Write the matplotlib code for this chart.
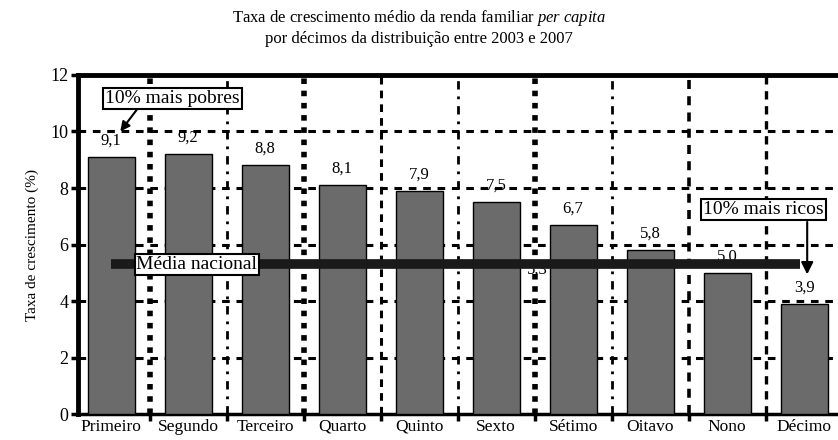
import matplotlib
matplotlib.use("Agg")
import matplotlib.pyplot as plt
import numpy as np

plt.rcParams['font.family'] = 'Liberation Serif'
plt.rcParams['mathtext.fontset'] = 'custom'
plt.rcParams['mathtext.rm'] = 'Liberation Serif'
plt.rcParams['mathtext.it'] = 'Liberation Serif:italic'

# data
deciles = ['Primeiro', 'Segundo', 'Terceiro', 'Quarto', 'Quinto',
           'Sexto', 'Sétimo', 'Oitavo', 'Nono', 'Décimo']
growth = [9.1, 9.2, 8.8, 8.1, 7.9, 7.5, 6.7, 5.8, 5.0, 3.9]
value_labels = ['9,1', '9,2', '8,8', '8,1', '7,9', '7,5', '6,7', '5,8', '5,0', '3,9']
national_mean = 5.3
national_label = '5,3'

x = np.arange(len(deciles))
SERIF = 'Liberation Serif'

fig = plt.figure(figsize=(8.38, 4.40), dpi=100)
ax = fig.add_axes([0.093, 0.058, 0.907, 0.772])

# bars
ax.bar(x, growth, width=0.61, color='#6b6b6b', edgecolor='black',
       linewidth=1.0, zorder=3)

# horizontal dashed grid
for yv in [2, 4, 6, 8, 10]:
    ax.axhline(yv, color='black', lw=2.2, ls=(0, (2.5, 2.2)), zorder=1)

# vertical separators with mixed styles
sep_styles = {0.5: ('dotted', 4.0), 1.5: ('dashdot', 2.0), 2.5: ('dotted', 4.0),
              3.5: ('dashed', 2.2), 4.5: ('dashdot', 2.0), 5.5: ('dotted', 4.0),
              6.5: ('dashdot', 2.0), 7.5: ('dashed', 2.6), 8.5: ('dashed', 2.4)}
for xv, (st, lw) in sep_styles.items():
    if st == 'dotted':
        ls = (0, (1.0, 1.2))
    elif st == 'dashdot':
        ls = (0, (3, 2.5, 1, 2.5))
    else:
        ls = (0, (2.5, 2.0))
    ax.axvline(xv, color='black', lw=lw, ls=ls, zorder=1)

# value labels
for xi, v, lab in zip(x, growth, value_labels):
    ax.text(xi, v + 0.3, lab, ha='center', va='bottom', fontsize=12,
            fontfamily=SERIF, zorder=4)

# national mean value (mostly hidden behind the line)
ax.text(5.53, national_mean - 0.45, national_label, ha='center', va='bottom',
        fontsize=12, fontfamily=SERIF, zorder=4)

# national mean line
ax.plot([0, 8.95], [national_mean, national_mean], color='#1a1a1a', lw=7,
        solid_capstyle='butt', zorder=5)
ax.text(0.33, national_mean, 'Média nacional', ha='left', va='center',
        fontsize=14, fontfamily=SERIF, zorder=6,
        bbox=dict(boxstyle='square,pad=0.1', fc='white', ec='black', lw=1.5))

# annotations
ax.annotate('10% mais pobres', xy=(0.12, 10.0), xytext=(0.8, 11.17),
            ha='center', va='center', fontsize=14, fontfamily=SERIF, zorder=6,
            bbox=dict(boxstyle='square,pad=0.1', fc='white', ec='black', lw=1.5),
            arrowprops=dict(arrowstyle='-|>', color='black', lw=1.5,
                            shrinkA=0, shrinkB=0, relpos=(0.25, 0)))
ax.text(8.47, 7.24, '10% mais ricos', ha='center', va='center',
        fontsize=14, fontfamily=SERIF, zorder=6,
        bbox=dict(boxstyle='square,pad=0.1', fc='white', ec='black', lw=1.5))
ax.annotate('', xy=(9.04, 4.95), xytext=(9.04, 6.8), zorder=6,
            arrowprops=dict(arrowstyle='-|>', color='black', lw=1.5,
                            mutation_scale=18, shrinkA=0, shrinkB=0))

# axes
ax.set_xlim(-0.43, 9.44)
ax.set_ylim(0, 12)
ax.set_yticks(np.arange(0, 13, 2))
ax.set_xticks(x)
ax.set_xticklabels(deciles, fontsize=12.5)
ax.set_xticks(np.arange(0.5, 9.0, 1.0), minor=True)
ax.tick_params(axis='x', which='major', length=0, pad=3)
ax.tick_params(axis='x', which='minor', length=5, width=2.5, direction='out')
ax.tick_params(axis='y', which='major', length=5, width=2.5, direction='out',
               labelsize=13, pad=2)
for s in ['left', 'top']:
    ax.spines[s].set_linewidth(3.5)
ax.spines['bottom'].set_linewidth(2.5)
ax.spines['right'].set_visible(False)

ax.set_ylabel('Taxa de crescimento (%)', fontsize=11, labelpad=8)

fig.text(0.5, 0.958, 'Taxa de crescimento médio da renda familiar $\\mathit{per\\ capita}$',
         ha='center', va='center', fontsize=12)
fig.text(0.5, 0.912, 'por décimos da distribuição entre 2003 e 2007',
         ha='center', va='center', fontsize=12)

fig.savefig('out.png', dpi=100)
